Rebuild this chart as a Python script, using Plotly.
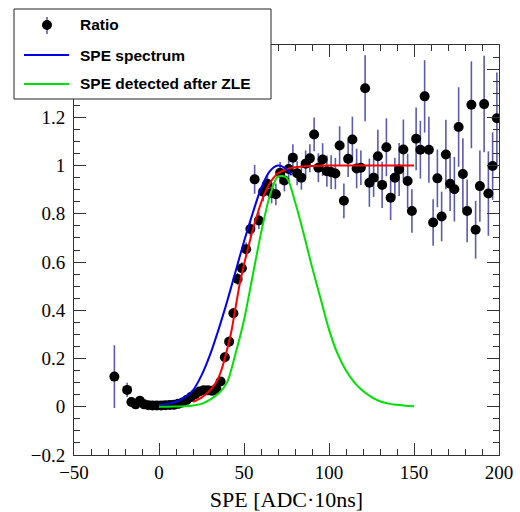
import plotly.graph_objects as go

# ---------------- data ----------------
ratio_x = [-26.25, -18.75, -16.25, -13.75, -11.25, -8.75, -6.25, -3.75, -1.25,
           1.25, 3.75, 6.25, 8.75, 11.25, 13.75, 16.25, 18.75, 21.25, 23.75,
           26.25, 28.75, 31.25, 33.75, 36.25, 38.75, 41.25, 43.75, 46.25, 48.75,
           51.25, 53.75, 56.25, 58.75, 61.25, 63.75, 66.25, 68.75, 71.25, 73.75,
           76.25, 78.75, 81.25, 83.75, 86.25, 88.75, 91.25, 93.75, 96.25, 98.75,
           101.25, 103.75, 106.25, 108.75, 111.25, 113.75, 116.25, 118.75, 121.25,
           123.75, 126.25, 128.75, 131.25, 133.75, 136.25, 138.75, 141.25, 143.75,
           146.25, 148.75, 151.25, 153.75, 156.25, 158.75, 161.25, 163.75, 166.25,
           168.75, 171.25, 173.75, 176.25, 178.75, 181.25, 183.75, 186.25, 188.75,
           191.25, 193.75, 196.25, 198.75]
ratio_y = [0.125, 0.070, 0.020, 0.010, 0.025, 0.010, 0.006, 0.005, 0.005,
           0.005, 0.006, 0.007, 0.008, 0.012, 0.018, 0.028, 0.040, 0.052, 0.063,
           0.068, 0.068, 0.066, 0.075, 0.105, 0.205, 0.270, 0.388, 0.530, 0.574,
           0.653, 0.737, 0.943, 0.772, 0.892, 0.925, 0.886, 0.881, 0.970, 0.938,
           0.986, 1.033, 0.968, 0.950, 1.008, 1.030, 1.129, 0.991, 1.025, 0.977,
           0.973, 0.967, 1.083, 0.854, 1.028, 1.108, 0.988, 0.991, 1.321,
           0.929, 0.950, 1.039, 0.920, 1.076, 0.867, 0.950, 0.984, 1.067,
           0.936, 0.812, 1.111, 1.066, 1.287, 1.066, 0.764, 0.947, 0.789,
           1.046, 0.925, 0.902, 1.160, 0.965, 0.812, 1.252, 0.734, 0.915,
           1.255, 0.884, 0.998, 1.196]
ratio_err = [0.13, 0.03, 0.012, 0.005, 0.006, 0.005, 0.004, 0.004, 0.004,
             0.004, 0.004, 0.004, 0.005, 0.005, 0.006, 0.007, 0.008, 0.008, 0.008,
             0.008, 0.008, 0.008, 0.009, 0.012, 0.02, 0.022, 0.022, 0.025, 0.025,
             0.028, 0.03, 0.06, 0.035, 0.04, 0.04, 0.042, 0.045, 0.045, 0.045,
             0.048, 0.055, 0.05, 0.05, 0.055, 0.058, 0.07, 0.06, 0.068, 0.065,
             0.07, 0.065, 0.08, 0.072, 0.075, 0.095, 0.082, 0.072, 0.137,
             0.10, 0.08, 0.11, 0.096, 0.12, 0.093, 0.082, 0.11, 0.124,
             0.113, 0.09, 0.13, 0.12, 0.15, 0.137, 0.096, 0.12, 0.103,
             0.144, 0.113, 0.134, 0.165, 0.148, 0.13, 0.18, 0.12, 0.148,
             0.20, 0.175, 0.14, 0.19]

spe_x = [0, 5, 10, 15, 20, 25, 30, 35, 40, 45, 50, 55, 60, 65, 70, 75, 78]
spe_y = [0.008, 0.012, 0.021, 0.038, 0.068, 0.13, 0.215, 0.32, 0.435, 0.56,
         0.685, 0.80, 0.905, 0.975, 1.0, 0.985, 0.96]

zle_x = [0, 5, 10, 15, 20, 25, 30, 35, 40, 45, 50, 55, 60, 65, 70, 75, 80, 85,
         90, 95, 100, 105, 110, 115, 120, 125, 130, 135, 140, 145, 150]
zle_y = [0.0, 0.0, 0.001, 0.002, 0.005, 0.012, 0.03, 0.055, 0.10, 0.22, 0.36,
         0.54, 0.72, 0.87, 0.955, 0.95, 0.85, 0.72, 0.58, 0.45, 0.32, 0.22,
         0.15, 0.10, 0.065, 0.04, 0.023, 0.013, 0.008, 0.004, 0.002]

fit_x = [20, 25, 30, 33, 35, 37.5, 40, 42.5, 45, 47.5, 50, 52.5, 55, 57.5, 60,
         62.5, 65, 67.5, 70, 75, 80, 90, 100, 125, 150]
fit_y = [0.02, 0.038, 0.068, 0.095, 0.12, 0.17, 0.235, 0.31, 0.41, 0.51, 0.59,
         0.66, 0.73, 0.79, 0.845, 0.89, 0.925, 0.95, 0.968, 0.985, 0.993, 0.998,
         1.0, 1.0, 1.0]

x_ticks = [-50, 0, 50, 100, 150, 200]
x_labels = ["\u221250", "0", "50", "100", "150", "200"]
y_ticks = [-0.2, 0, 0.2, 0.4, 0.6, 0.8, 1.0, 1.2, 1.4]
y_labels = ["\u22120.2", "0", "0.2", "0.4", "0.6", "0.8", "1", "1.2", "1.4"]

# ---------------- figure ----------------
ERR_COL = "#5c5cac"
AX_COL = "#333333"
SERIF = "Liberation Serif"
W_FIG, H_FIG = 520, 512
L, R, T, B = 74, 499, 45, 455

fig = go.Figure()
fig.add_trace(go.Scatter(
    x=ratio_x, y=ratio_y, mode="markers", name="Ratio",
    marker=dict(color="black", size=10),
    error_y=dict(type="data", array=ratio_err, color=ERR_COL, thickness=1.6, width=0),
    showlegend=False))
fig.add_trace(go.Scatter(x=fit_x, y=fit_y, mode="lines", name="fit",
                         line=dict(color="#ff0000", width=2, shape="spline", smoothing=0.8),
                         showlegend=False))
fig.add_trace(go.Scatter(x=spe_x, y=spe_y, mode="lines", name="SPE spectrum",
                         line=dict(color="#0000ee", width=2, shape="spline", smoothing=0.8),
                         showlegend=False))
fig.add_trace(go.Scatter(x=zle_x, y=zle_y, mode="lines", name="SPE detected after ZLE",
                         line=dict(color="#00e000", width=2, shape="spline", smoothing=0.8),
                         showlegend=False))

tick_font = dict(family=SERIF, size=19, color="black")

fig.update_layout(
    xaxis=dict(
        range=[-50, 200], tickmode="array", tickvals=x_ticks, ticktext=x_labels,
        ticks="inside", ticklen=12, tickwidth=1, tickcolor=AX_COL,
        minor=dict(ticks="inside", dtick=10, ticklen=6, tickcolor=AX_COL, tickwidth=1, showgrid=False),
        showline=True, linecolor=AX_COL, linewidth=1, mirror="allticks",
        showgrid=False, zeroline=False, tickfont=tick_font, automargin=False,
        title=dict(text="SPE [ADC\u00b710ns]", font=dict(family=SERIF, size=22, color="black"),
                   standoff=14)),
    yaxis=dict(
        range=[-0.2, 1.5], tickmode="array", tickvals=y_ticks, ticktext=y_labels,
        ticks="inside", ticklen=12, tickwidth=1, tickcolor=AX_COL,
        minor=dict(ticks="inside", dtick=0.05, ticklen=6, tickcolor=AX_COL, tickwidth=1, showgrid=False),
        showline=True, linecolor=AX_COL, linewidth=1, mirror="allticks",
        showgrid=False, zeroline=False, tickfont=tick_font, ticklabelstandoff=4, automargin=False),
)


def px(x):
    return (x - L) / (R - L)


def py(y):
    return (B - y) / (B - T)


shapes = []
annotations = []
shapes.append(dict(type="rect", xref="paper", yref="paper", x0=px(14), x1=px(271),
                   y0=py(99), y1=py(9), fillcolor="white", line=dict(color="#222222", width=1),
                   layer="above"))
rows = [25, 55, 84]
shapes.append(dict(type="line", xref="paper", yref="paper", x0=px(47), x1=px(47),
                   y0=py(34), y1=py(17), line=dict(color=ERR_COL, width=1.6), layer="above"))
shapes.append(dict(type="circle", xref="paper", yref="paper", xsizemode="pixel", ysizemode="pixel",
                   xanchor=px(47), yanchor=py(rows[0]), x0=-5, x1=5, y0=-5, y1=5,
                   fillcolor="black", line=dict(color="black", width=0), layer="above"))
shapes.append(dict(type="line", xref="paper", yref="paper", x0=px(24), x1=px(69),
                   y0=py(rows[1]), y1=py(rows[1]), line=dict(color="#0000ee", width=2), layer="above"))
shapes.append(dict(type="line", xref="paper", yref="paper", x0=px(24), x1=px(69),
                   y0=py(rows[2]), y1=py(rows[2]), line=dict(color="#00e000", width=2), layer="above"))
for txt, r in zip(["Ratio", "SPE spectrum", "SPE detected after ZLE"], rows):
    annotations.append(dict(text=txt, xref="paper", yref="paper", x=px(78), y=py(r),
                            xanchor="left", yanchor="middle", showarrow=False,
                            font=dict(family="Liberation Sans", size=15.5, color="black", weight="bold")))

fig.update_layout(
    width=W_FIG, height=H_FIG,
    font=dict(family=SERIF, size=19, color="black"),
    margin=dict(l=L, r=W_FIG - R, t=T, b=H_FIG - B, pad=0, autoexpand=False),
    paper_bgcolor="white", plot_bgcolor="white",
    shapes=shapes, annotations=annotations, showlegend=False)

fig.write_html("out.html")
